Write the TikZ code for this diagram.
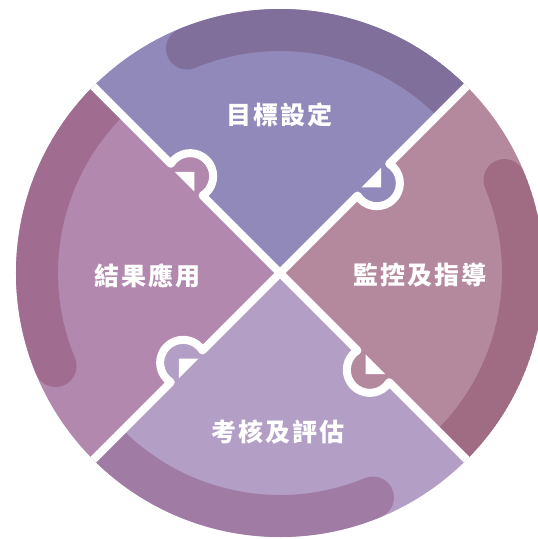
\documentclass[tikz,border=0pt]{standalone}
\usepackage{fontspec}
\usepackage{tikz}
\newfontfamily\cjk{Noto Sans CJK TC}[LetterSpace=8]
\definecolor{goalfill}{HTML}{9189BA}
\definecolor{goalband}{HTML}{806F9B}
\definecolor{watchfill}{HTML}{B5899D}
\definecolor{watchband}{HTML}{A06C84}
\definecolor{judgefill}{HTML}{B39EC6}
\definecolor{judgeband}{HTML}{A07CA4}
\definecolor{usefill}{HTML}{B288AE}
\definecolor{useband}{HTML}{A06C90}
\tikzstyle{phase}=[text=white,font=\cjk\bfseries\fontsize{25}{25}\selectfont]
\tikzstyle{band}=[line width=42pt,line cap=round]
\tikzstyle{seamline}=[draw=white,line width=8pt,line join=round]
\tikzstyle{knobtip}=[fill=white]
\newcommand\quartpiece[3]{%
  \fill[#2] (0,0) -- (#1:300) arc[start angle=#1,end angle=#1-90,radius=300] -- cycle;
  \begin{scope}
    \clip (0,0) -- (#1:300) arc[start angle=#1,end angle=#1-90,radius=300] -- cycle;
    \draw[band,#3] (#1-22.5:243) arc[start angle=#1-22.5,end angle=#1-100,radius=243];
  \end{scope}}
\newcommand\seam[2]{%
  \begin{scope}[rotate=#1]
    \fill[#2] (132,-5) circle[radius=23];
    \draw[seamline] (0,0) -- (109.55,0) arc[start angle=167.44,end angle=372.56,radius=23] -- (300,0);
    \fill[knobtip] (118,3) -- (146,3) -- (132,-11) -- cycle;
  \end{scope}}

\begin{document}
\begin{tikzpicture}[x=1pt,y=1pt]
	\useasboundingbox (-280,-266) rectangle (258,273);
	\clip (0,0) circle[radius=264];
	\quartpiece{135}{goalfill}{goalband}
	\quartpiece{45}{watchfill}{watchband}
	\quartpiece{-45}{judgefill}{judgeband}
	\quartpiece{225}{usefill}{useband}
	\seam{135}{usefill}
	\seam{45}{goalfill}
	\seam{-45}{watchfill}
	\seam{225}{judgefill}
	\node[phase] (goal)  at (0,158)    {目標設定};
	\node[phase] (watch) at (140.5,-2) {監控及指導};
	\node[phase] (judge) at (-2,-159)  {考核及評估};
	\node[phase] (use)   at (-132,-3)  {結果應用};
\end{tikzpicture}
\end{document}
